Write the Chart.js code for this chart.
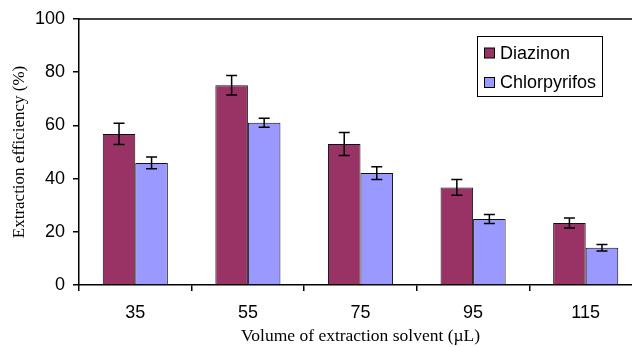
<!DOCTYPE html>
<html>
<head>
<meta charset="utf-8">
<script src="https://cdn.jsdelivr.net/npm/chart.js@4.4.1/dist/chart.umd.min.js"></script>
<style>
  html, body { margin: 0; padding: 0; background: #fff; overflow: hidden; }
  #wrap { width: 642px; height: 347px; }
</style>
</head>
<body>
<div id="wrap"><canvas id="chart" width="642" height="347"></canvas></div>
<script>
// Data
const volumes = ['35', '55', '75', '95', '115'];
const diazinon = [56.8, 75.1, 53.0, 36.7, 23.3];
const diazinonErr = [4.0, 3.7, 4.3, 3.0, 1.9];
const chlorpyrifos = [45.9, 61.0, 42.1, 24.8, 14.0];
const chlorpyrifosErr = [2.2, 1.7, 2.4, 1.7, 1.25];
const yTicks = [0, 20, 40, 60, 80, 100];

const errors = [diazinonErr, chlorpyrifosErr];

// Error bars drawn from the bar elements and the y scale
const errorBars = {
    id: 'errorBars',
    afterDatasetsDraw(chart) {
        const ctx = chart.ctx;
        const y = chart.scales.y;
        ctx.save();
        ctx.strokeStyle = '#000';
        ctx.lineWidth = 1.5;
        chart.data.datasets.forEach((ds, i) => {
            const meta = chart.getDatasetMeta(i);
            meta.data.forEach((bar, j) => {
                const v = ds.data[j];
                const e = errors[i][j];
                const top = y.getPixelForValue(v + e);
                const bot = y.getPixelForValue(v - e);
                const cap = 5.5;
                ctx.beginPath();
                ctx.moveTo(bar.x, top); ctx.lineTo(bar.x, bot);
                ctx.moveTo(bar.x - cap, top); ctx.lineTo(bar.x + cap, top);
                ctx.moveTo(bar.x - cap, bot); ctx.lineTo(bar.x + cap, bot);
                ctx.stroke();
            });
        });
        ctx.restore();
    }
};

// Top frame line and boxed legend inside the plot
const frameAndLegend = {
    id: 'frameAndLegend',
    afterDraw(chart) {
        const ctx = chart.ctx;
        const area = chart.chartArea;
        ctx.save();
        ctx.strokeStyle = '#000';
        ctx.lineWidth = 1.5;
        ctx.beginPath();
        ctx.moveTo(area.left, area.top);
        ctx.lineTo(area.right, area.top);
        ctx.stroke();

        // legend box
        ctx.lineWidth = 1;
        ctx.strokeRect(477.5, 36.5, 125, 60);
        ctx.font = '18px "Liberation Sans", Arial, sans-serif';
        ctx.textBaseline = 'middle';
        ctx.textAlign = 'left';
        chart.data.datasets.forEach((ds, i) => {
            const cy = 53 + i * 29.5;
            ctx.fillStyle = ds.backgroundColor;
            ctx.fillRect(484.5, cy - 5, 10, 10);
            ctx.strokeRect(484.5, cy - 5, 10, 10);
            ctx.fillStyle = '#000';
            ctx.fillText(ds.label, 500, cy + 1);
        });
        ctx.restore();
    }
};

new Chart(document.getElementById('chart').getContext('2d'), {
    type: 'bar',
    data: {
        labels: volumes,
        datasets: [
            {
                label: 'Diazinon',
                data: diazinon,
                backgroundColor: '#993366',
                borderColor: '#111',
                borderWidth: 1,
                borderSkipped: 'bottom',
                categoryPercentage: 0.578,
                barPercentage: 1
            },
            {
                label: 'Chlorpyrifos',
                data: chlorpyrifos,
                backgroundColor: '#9999ff',
                borderColor: '#111',
                borderWidth: 1,
                borderSkipped: 'bottom',
                categoryPercentage: 0.578,
                barPercentage: 1
            }
        ]
    },
    options: {
        responsive: false,
        animation: false,
        layout: { padding: { top: 19, right: 0, left: 0, bottom: 0 } },
        plugins: {
            legend: { display: false },
            tooltip: { enabled: false }
        },
        scales: {
            x: {
                grid: {
                    offset: true,
                    drawOnChartArea: false,
                    tickLength: 6,
                    color: '#000',
                    lineWidth: 1.5
                },
                border: { color: '#000', width: 1.5 },
                ticks: {
                    color: '#000',
                    padding: 11,
                    font: { family: '"Liberation Sans", Arial, sans-serif', size: 18 }
                },
                title: {
                    display: true,
                    text: 'Volume of extraction solvent (\u00b5L)',
                    color: '#000',
                    padding: { top: 0, bottom: 0 },
                    font: { family: '"Liberation Serif", "Times New Roman", serif', size: 17.5 }
                },
                afterFit(scale) { scale.height = 62; }
            },
            y: {
                min: 0,
                max: 100,
                afterBuildTicks(scale) { scale.ticks = yTicks.map(v => ({ value: v })); },
                grid: {
                    drawOnChartArea: false,
                    tickLength: 6,
                    color: '#000',
                    lineWidth: 1.5
                },
                border: { color: '#000', width: 1.5 },
                ticks: {
                    color: '#000',
                    padding: 8,
                    font: { family: '"Liberation Sans", Arial, sans-serif', size: 18 }
                },
                title: {
                    display: true,
                    text: 'Extraction efficiency (%)',
                    color: '#000',
                    padding: { top: 9, bottom: 0 },
                    font: { family: '"Liberation Serif", "Times New Roman", serif', size: 17 }
                },
                afterFit(scale) { scale.width = 79; }
            }
        }
    },
    plugins: [errorBars, frameAndLegend]
});
</script>
</body>
</html>
